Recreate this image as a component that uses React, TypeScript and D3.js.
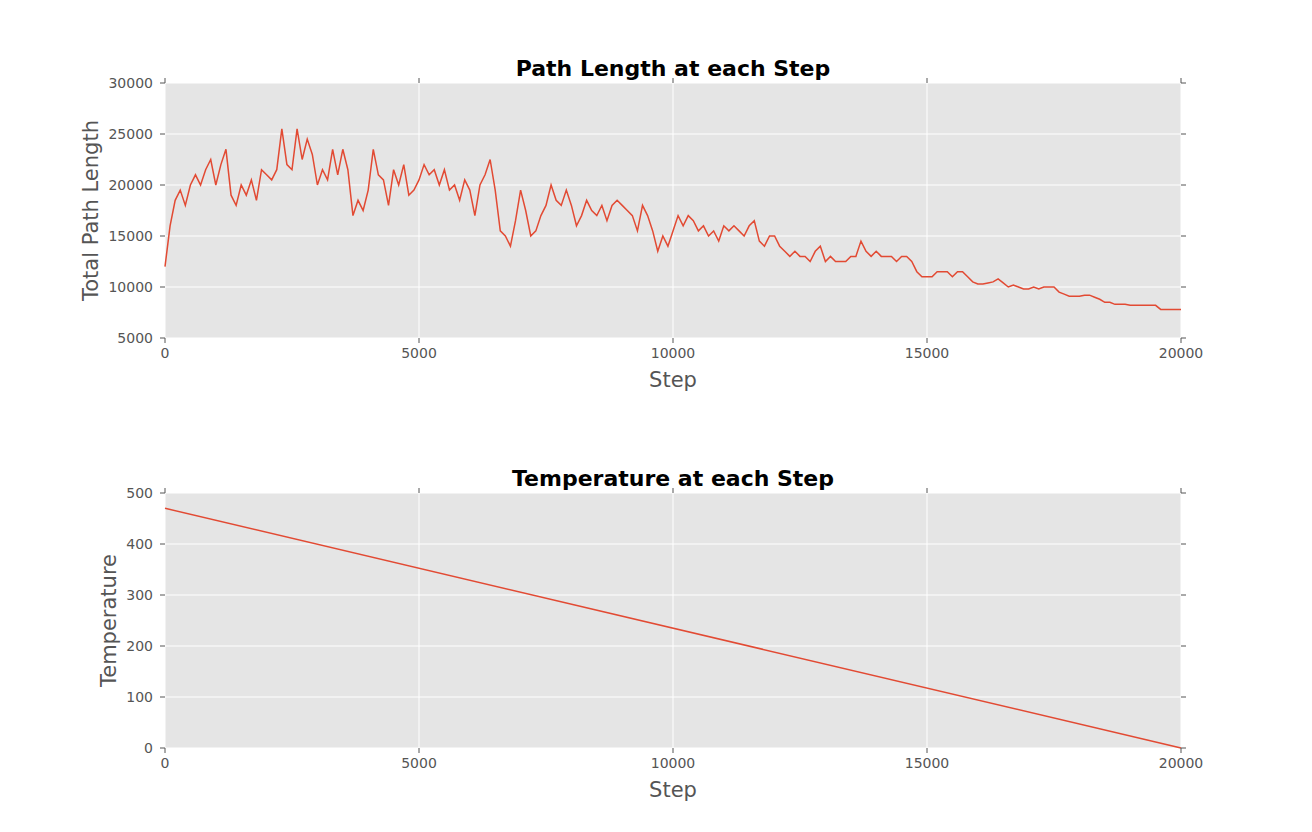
import React from "react";
import * as d3 from "d3";

const pathSteps = d3.range(0, 20001, 100);
const pathValues = [12000,16000,18500,19500,18000,20000,21000,20000,21500,22500,20000,22000,23500,19000,18000,20000,19000,20500,18500,21500,21000,20500,21500,25500,22000,21500,25500,22500,24500,23000,20000,21500,20500,23500,21000,23500,21500,17000,18500,17500,19500,23500,21000,20500,18000,21500,20000,22000,19000,19500,20500,22000,21000,21500,20000,21500,19500,20000,18500,20500,19500,17000,20000,21000,22500,19500,15500,15000,14000,16500,19500,17500,15000,15500,17000,18000,20000,18500,18000,19500,18000,16000,17000,18500,17500,17000,18000,16500,18000,18500,18000,17500,17000,15500,18000,17000,15500,13500,15000,14000,15500,17000,16000,17000,16500,15500,16000,15000,15500,14500,16000,15500,16000,15500,15000,16000,16500,14500,14000,15000,15000,14000,13500,13000,13500,13000,13000,12500,13500,14000,12500,13000,12500,12500,12500,13000,13000,14500,13500,13000,13500,13000,13000,13000,12500,13000,13000,12500,11500,11000,11000,11000,11500,11500,11500,11000,11500,11500,11000,10500,10300,10300,10400,10500,10800,10400,10000,10200,10000,9800,9800,10000,9800,10000,10000,10000,9500,9300,9100,9100,9100,9200,9200,9000,8800,8500,8500,8300,8300,8300,8200,8200,8200,8200,8200,8200,7800,7800,7800,7800,7800];
const tempSteps = [0, 20000];
const tempValues = [470, 0];
const xTicks = [0, 5000, 10000, 15000, 20000];
const pathTicks = [5000, 10000, 15000, 20000, 25000, 30000];
const tempTicks = [0, 100, 200, 300, 400, 500];

const L = 165, R = 1181;
const font = "DejaVu Sans, sans-serif";

function Panel({ top, bottom, yDomain, yTicks, xs, ys, title, ylabel, labelX }: any) {
  const x = d3.scaleLinear().domain([0, 20000]).range([L, R]);
  const y = d3.scaleLinear().domain(yDomain).range([bottom, top]);
  const line = d3.line<number>().x((_, i) => x(xs[i])).y((d) => y(d));
  return (
    <g>
      <rect x={L} y={top} width={R - L} height={bottom - top} fill="#E5E5E5" />
      {xTicks.map((t) => <line key={"gx" + t} x1={x(t)} x2={x(t)} y1={top} y2={bottom} stroke="#fff" />)}
      {yTicks.map((t: number) => <line key={"gy" + t} x1={L} x2={R} y1={y(t)} y2={y(t)} stroke="#fff" />)}
      <path d={line(ys) || ""} fill="none" stroke="#E24A33" strokeWidth={1.5} />
      {xTicks.map((t) => (
        <g key={"tx" + t}>
          <line x1={x(t)} x2={x(t)} y1={bottom} y2={bottom + 5} stroke="#555" />
          <line x1={x(t)} x2={x(t)} y1={top} y2={top - 5} stroke="#555" />
          <text x={x(t)} y={bottom + 20} textAnchor="middle" fontSize={14} fill="#555" fontFamily={font}>{t}</text>
        </g>
      ))}
      {yTicks.map((t: number) => (
        <g key={"ty" + t}>
          <line x1={L} x2={L - 5} y1={y(t)} y2={y(t)} stroke="#555" />
          <line x1={R} x2={R + 5} y1={y(t)} y2={y(t)} stroke="#555" />
          <text x={L - 12} y={y(t) + 5} textAnchor="end" fontSize={14} fill="#555" fontFamily={font}>{t}</text>
        </g>
      ))}
      <text x={(L + R) / 2} y={top - 7} textAnchor="middle" fontSize={22} fontWeight="bold" fill="#000" fontFamily={font}>{title}</text>
      <text x={(L + R) / 2} y={bottom + 49} textAnchor="middle" fontSize={21} fill="#555" fontFamily={font}>Step</text>
      <text transform={`translate(${labelX},${(top + bottom) / 2}) rotate(-90)`} textAnchor="middle" fontSize={21} fill="#555" fontFamily={font}>{ylabel}</text>
    </g>
  );
}

export default function App() {
  return (
    <svg width={1312} height={832} style={{ position: "absolute", left: 0, top: 0, background: "#fff" }}>
      <Panel top={83} bottom={338} yDomain={[5000, 30000]} yTicks={pathTicks} xs={pathSteps} ys={pathValues} title="Path Length at each Step" ylabel="Total Path Length" labelX={98} />
      <Panel top={493} bottom={748} yDomain={[0, 500]} yTicks={tempTicks} xs={tempSteps} ys={tempValues} title="Temperature at each Step" ylabel="Temperature" labelX={116} />
    </svg>
  );
}
